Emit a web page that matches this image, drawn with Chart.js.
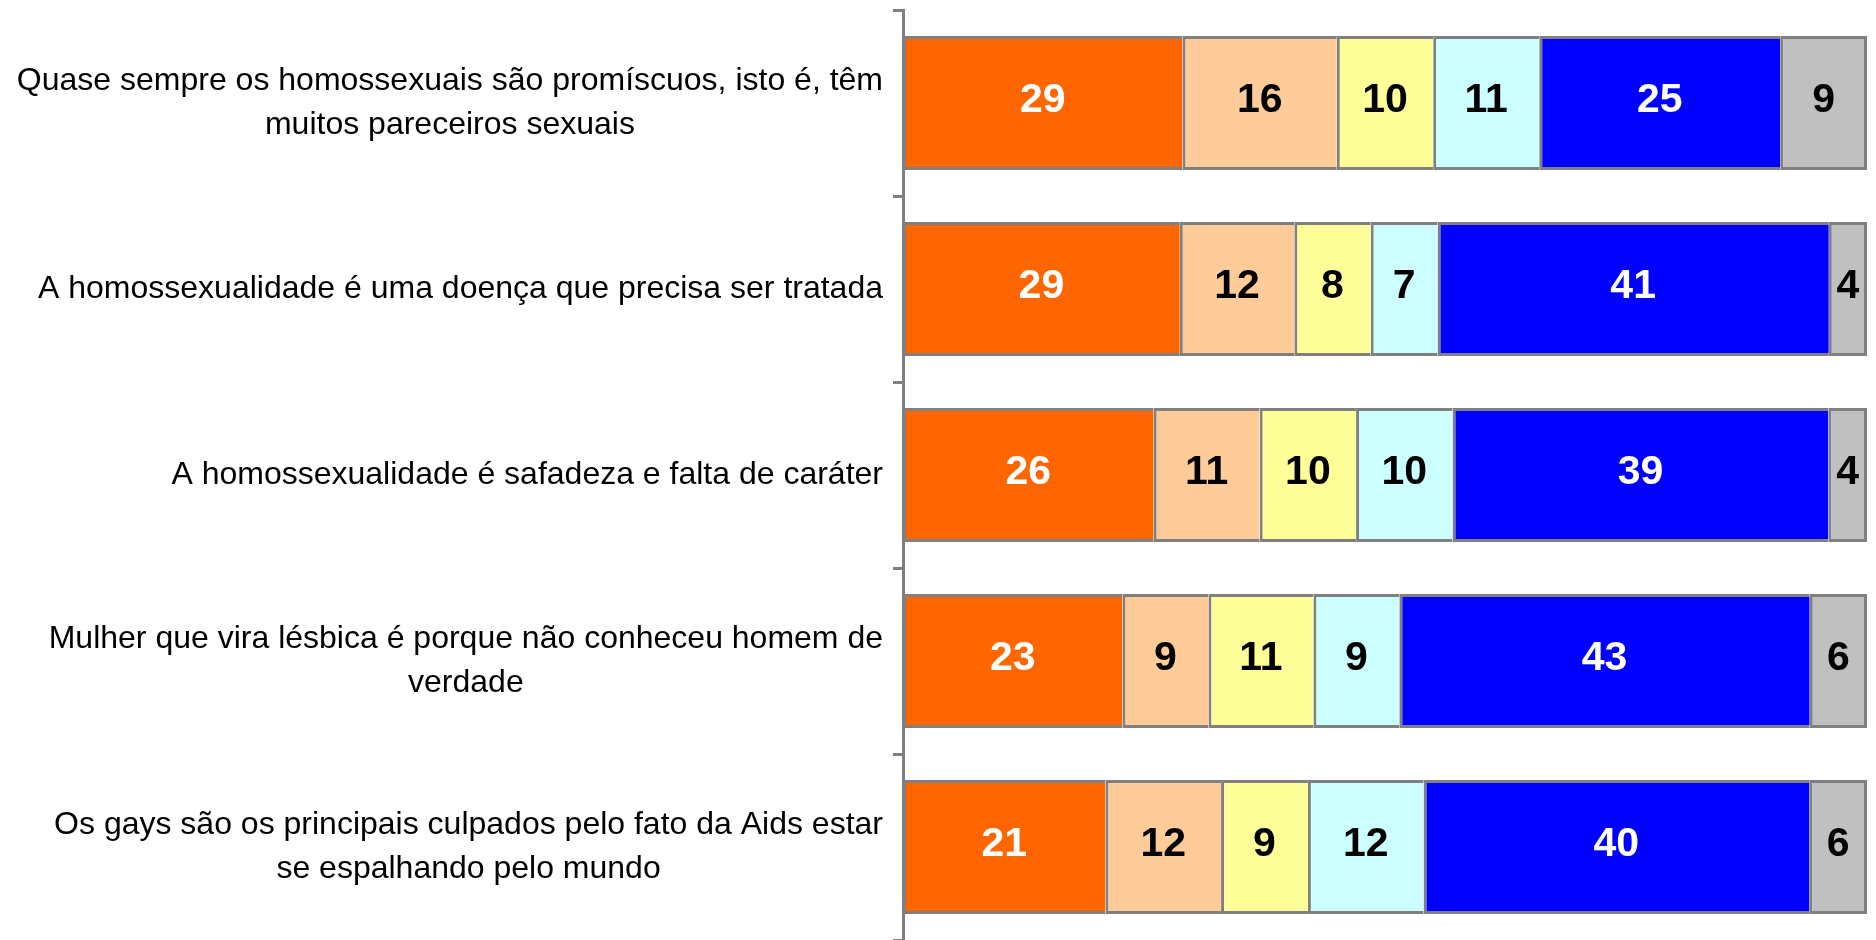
<!DOCTYPE html>
<html>
<head>
<meta charset="utf-8">
<script src="https://cdn.jsdelivr.net/npm/chart.js@4.4.1/dist/chart.umd.min.js"></script>
<style>
  html, body { margin: 0; padding: 0; background: #fff; overflow: hidden; }
  #wrap { width: 1876px; height: 940px; position: relative; }
</style>
</head>
<body>
<div id="wrap"><canvas id="barChart"></canvas></div>
<script>
// statements (y axis)
const categories = [
    ["Quase sempre os homossexuais são promíscuos, isto é, têm", "muitos pareceiros sexuais"],
    ["A homossexualidade é uma doença que precisa ser tratada"],
    ["A homossexualidade é safadeza e falta de caráter"],
    ["Mulher que vira lésbica é porque não conheceu homem de", "verdade"],
    ["Os gays são os principais culpados pelo fato da Aids estar", "se espalhando pelo mundo"]
];

// answers, in % (as printed on the bars)
const concordaTotal   = [29, 29, 26, 23, 21];
const concordaParte   = [16, 12, 11, 9, 12];
const nemNem          = [10, 8, 10, 11, 9];
const discordaParte   = [11, 7, 10, 9, 12];
const discordaTotal   = [25, 41, 39, 43, 40];
const naoSabe         = [9, 4, 4, 6, 6];

const seriesNames = ["Concorda totalmente", "Concorda em parte", "Nem concorda nem discorda",
                     "Discorda em parte", "Discorda totalmente", "Não sabe"];
const allSeries = [concordaTotal, concordaParte, nemNem, discordaParte, discordaTotal, naoSabe];

const fills = ['#FF6600', '#FFCC99', '#FFFF99', '#CCFFFF', '#0000FF', '#C0C0C0'];
const labelColors = ['#FFFFFF', '#000000', '#000000', '#000000', '#FFFFFF', '#000000'];
const edge = '#808080';
const FONT = "'Liberation Sans', Arial, sans-serif";

// 100% stacked, like the original sheet
const totals = categories.map((c, i) => allSeries.reduce((s, arr) => s + arr[i], 0));

const datasets = allSeries.map((arr, k) => ({
    label: seriesNames[k],
    data: arr.map((v, i) => v / totals[i] * 100),
    raw: arr,
    backgroundColor: fills[k],
    borderColor: edge,
    borderWidth: { top: 3, bottom: 3, left: 3, right: k === allSeries.length - 1 ? 3 : 0 },
    borderSkipped: false,
    categoryPercentage: 1,
    barPercentage: 0.72
}));

// numbers inside the segments
const valueLabels = {
    id: "valueLabels",
    afterDatasetsDraw(chart) {
        const ctx = chart.ctx;
        ctx.save();
        ctx.font = "bold 41px " + FONT;
        ctx.textAlign = "center";
        ctx.textBaseline = "middle";
        chart.data.datasets.forEach((ds, k) => {
            const meta = chart.getDatasetMeta(k);
            meta.data.forEach((bar, i) => {
                const cx = (bar.x + bar.base) / 2;
                ctx.fillStyle = labelColors[k];
                ctx.fillText(String(ds.raw[i]), cx, bar.y - 2);
            });
        });
        ctx.restore();
    }
};

// statement text: right aligned block, lines centred in the block
const rowLabels = {
    id: "rowLabels",
    afterDraw(chart) {
        const ctx = chart.ctx;
        const yScale = chart.scales.y;
        const right = chart.chartArea.left - 20;
        const lineH = 44;
        ctx.save();
        ctx.font = "32px " + FONT;
        ctx.fillStyle = "#000";
        ctx.textAlign = "center";
        ctx.textBaseline = "middle";
        categories.forEach((lines, i) => {
            const w = Math.max(...lines.map(l => ctx.measureText(l).width));
            const cx = right - w / 2;
            const cy = yScale.getPixelForValue(i);
            const y0 = cy - (lines.length - 1) * lineH / 2;
            lines.forEach((l, j) => ctx.fillText(l, cx, y0 + j * lineH));
        });
        ctx.restore();
    }
};

const bar = document.getElementById("barChart");
const barChart = new Chart(bar, {
    type: "bar",
    data: {
        labels: categories.map(c => c.join(" ")),
        datasets: datasets
    },
    options: {
        indexAxis: "y",
        responsive: true,
        maintainAspectRatio: false,
        animation: false,
        layout: { padding: { top: 10, right: 9, bottom: 0, left: 0 } },
        scales: {
            x: {
                stacked: true,
                display: false,
                min: 0,
                max: 100
            },
            y: {
                stacked: true,
                ticks: { display: false },
                grid: {
                    offset: true,
                    drawOnChartArea: false,
                    drawTicks: true,
                    tickLength: 10,
                    color: edge,
                    lineWidth: 3
                },
                border: { color: edge, width: 3 },
                afterFit(scale) {
                    scale.width = 903;
                }
            }
        },
        plugins: {
            legend: { display: false },
            tooltip: { enabled: false }
        }
    },
    plugins: [valueLabels, rowLabels]
});
</script>
</body>
</html>
